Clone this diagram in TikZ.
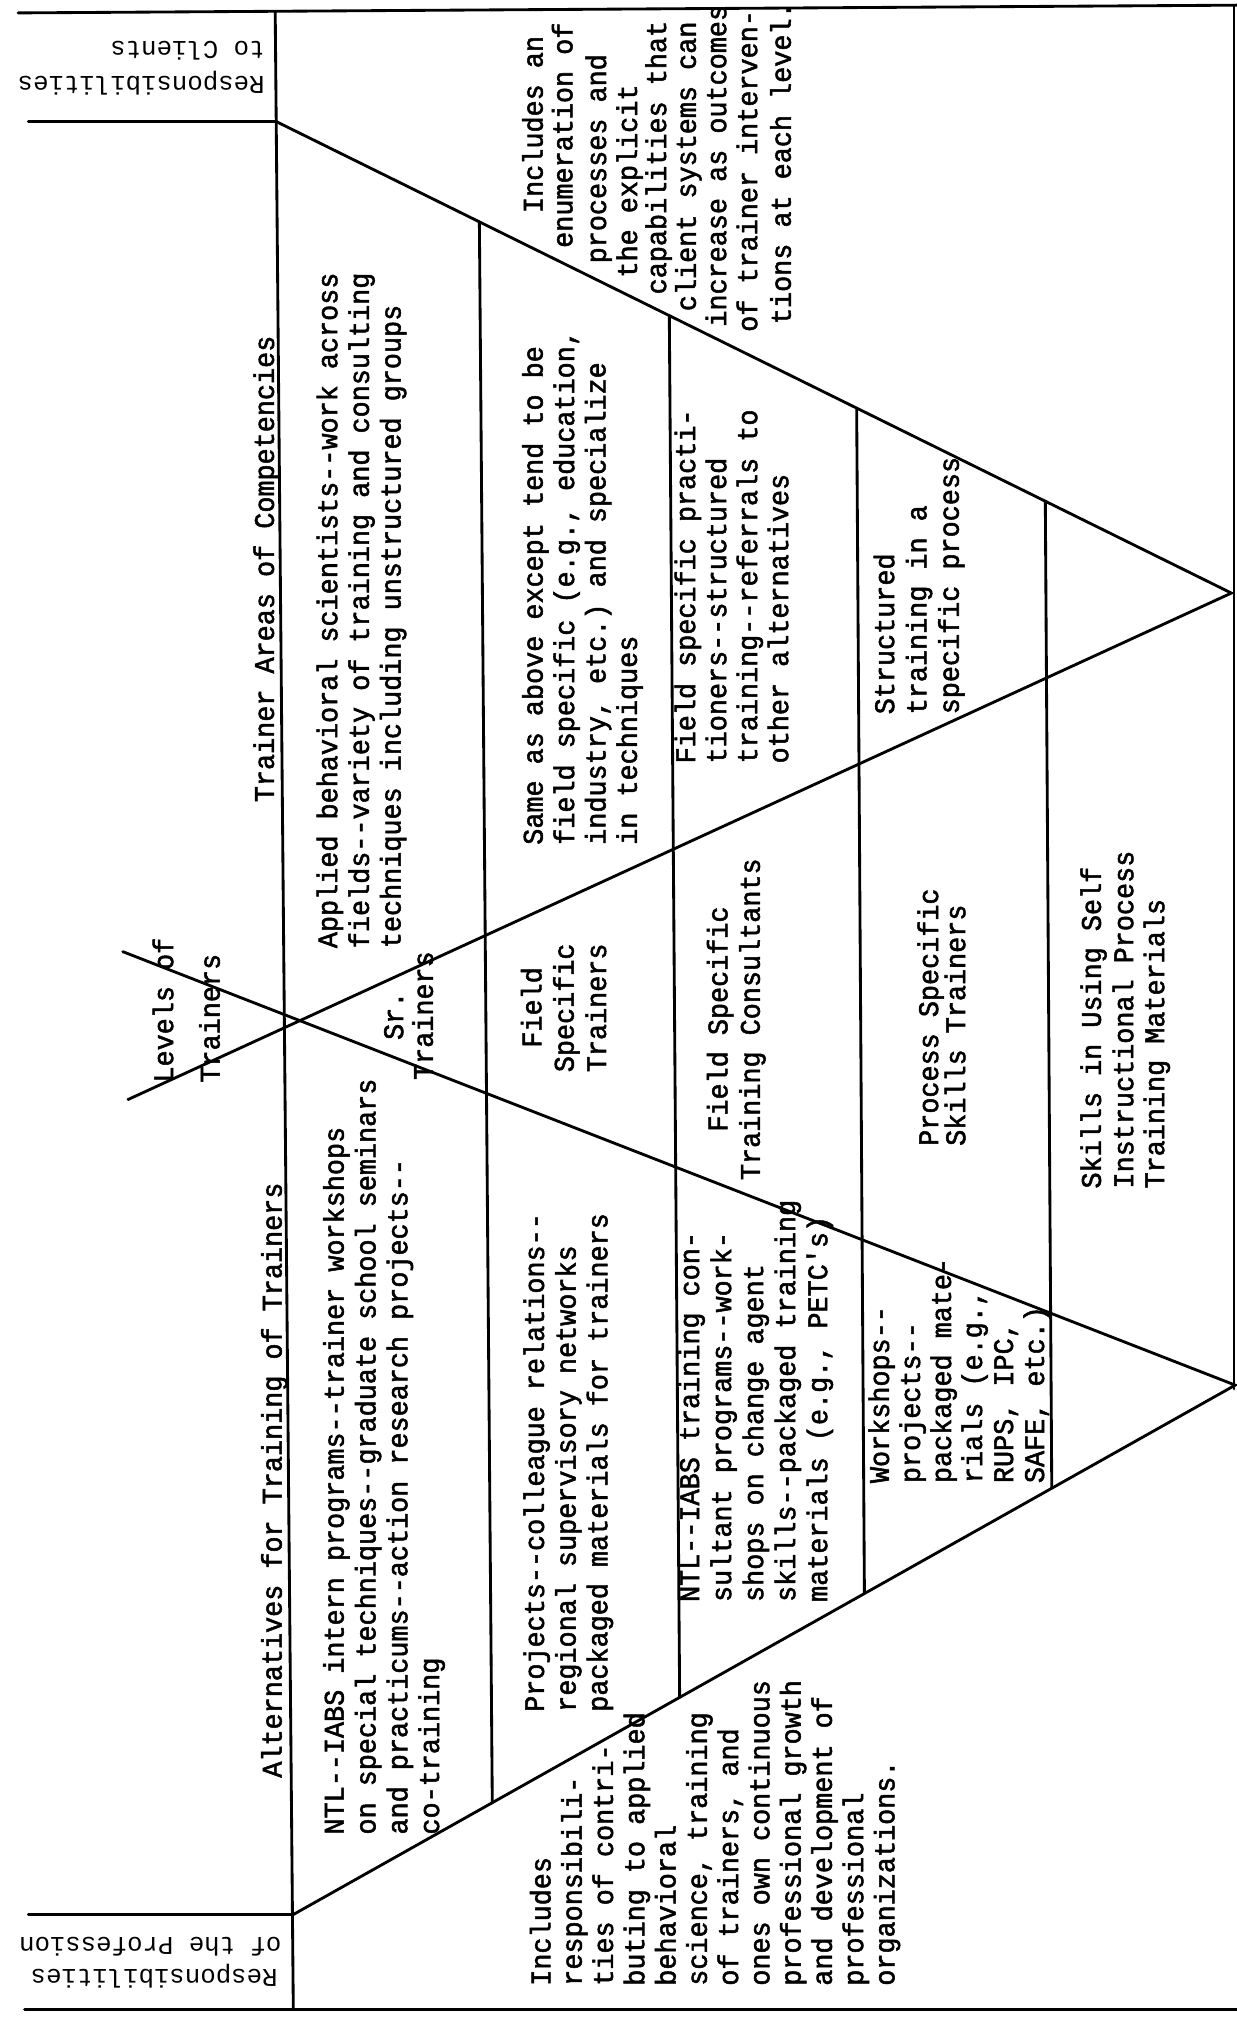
\documentclass[tikz,border=0pt]{standalone}
\usepackage{fontspec}
\setmonofont[FakeBold=1.8,FakeStretch=0.943]{Liberation Mono}
\newfontfamily\hdfont{Liberation Mono}
\begin{document}
\begin{tikzpicture}[x=1pt,y=-1pt,
  ln/.style={line width=2.2pt, line cap=round},
  tl/.style={rotate=90, anchor=base west, inner sep=0pt, font=\ttfamily\fontsize{22}{26}\selectfont},
  hd/.style={rotate=180, anchor=base west, inner sep=0pt, font=\hdfont\fontsize{19.9}{24}\selectfont}]
\fill[white] (0,0) rectangle (957,1568);
\useasboundingbox (0,0) rectangle (957,1568);
% frame coordinates
\coordinate (TL) at (14,10);
\coordinate (TR) at (957,4);
\coordinate (VT) at (213,9.5);
\coordinate (VB) at (227,1555);
\coordinate (H1L) at (22,94);
\coordinate (C1) at (213.6,94);
\coordinate (A1) at (953,459);
\coordinate (BE) at (99,851);
\coordinate (CS) at (95,736.5);
\coordinate (A2) at (956,1072);
\coordinate (C2) at (226.5,1482);
\coordinate (H2L) at (22,1482);
\coordinate (BL) at (19,1555);
\coordinate (BR) at (957,1555);
\coordinate (RT) at (955,4);
\coordinate (RB) at (955,1075);
\coordinate (r1t) at (371,171.7);  \coordinate (r1b) at (381,1395.2);
\coordinate (r2t) at (518,244.3);  \coordinate (r2b) at (526,1313.7);
\coordinate (r3t) at (663,315.8);  \coordinate (r3b) at (669,1233.3);
\coordinate (r4t) at (809,387.9);  \coordinate (r4b) at (814,1151.8);
% lines
\draw[ln] (TL) -- (TR);
\draw[ln] (BL) -- (BR);
\draw[ln] (VT) -- (VB);
\draw[ln] (RT) -- (RB);
\draw[ln] (H1L) -- (C1);
\draw[ln] (H2L) -- (C2);
\draw[ln] (C1) -- (A1) -- (BE);
\draw[ln] (CS) -- (A2) -- (C2);
\draw[ln] (r1t) -- (r1b);
\draw[ln] (r2t) -- (r2b);
\draw[ln] (r3t) -- (r3b);
\draw[ln] (r4t) -- (r4b);
% headers
\node[hd] (h1a) at (205,32.5) {to Clients};
\node[hd] (h1b) at (205,59.5) {Responsibilities};
\node[hd] (h2a) at (218,1499.5) {of the Profession};
\node[hd] (h2b) at (215,1524.5) {Responsibilities};
% titles
\node[tl] (ttac) at (212,621) {Trainer Areas of Competencies};
\node[tl] (tatt) at (218,1376) {Alternatives for Training of Trainers};
% upper blocks
\foreach \tline [count=\k] in {{Applied behavioral scientists--work across},{fields--variety of training and consulting},{techniques including unstructured groups}}
  \node[tl] (ra-\k) at ({261+(\k-1)*24.5},734) {\tline};
\foreach \tline [count=\k] in {{Same as above except tend to be},{field specific (e.g., education,},{industry, etc.) and specialize},{in techniques}}
  \node[tl] (rb-\k) at ({420+(\k-1)*24.3},654) {\tline};
\foreach \tline [count=\k] in {{Field specific practi-},{tioners--structured},{training--referrals to},{other alternatives}}
  \node[tl] (rc-\k) at ({538+(\k-1)*24},591) {\tline};
\foreach \tline [count=\k] in {{Structured},{training in a},{specific process}}
  \node[tl] (rd-\k) at ({692+(\k-1)*25},553) {\tline};
\foreach \xs/\ys/\tline [count=\k] in {420/165/{Includes an},443/192/{enumeration of},469/204/{processes and},493/215/{the explicit},515.5/228/{capabilities that},538.5/241/{client systems can},562/253/{increase as outcomes},586/257/{of trainer interven-},612/251/{tions at each level.}}
  \node[tl] (ia-\k) at (\xs,\ys) {\tline};
% lower blocks
\foreach \tline [count=\k] in {{NTL--IABS intern programs--trainer workshops},{on special techniques--graduate school seminars},{and practicums--action research projects--},{co-training}}
  \node[tl] (la-\k) at ({266+(\k-1)*24.6},1420) {\tline};
\foreach \tline [count=\k] in {{Projects--colleague relations--},{regional supervisory networks},{packaged materials for trainers}}
  \node[tl] (lb-\k) at ({421+(\k-1)*24.5},1325) {\tline};
\foreach \tline [count=\k] in {{NTL--IABS training con-},{sultant programs--work-},{shops on change agent},{skills--packaged training},{materials (e.g., PETC's)}}
  \node[tl] (lc-\k) at ({541+(\k-1)*24.8},1240) {\tline};
\foreach \tline [count=\k] in {{Workshops--},{projects--},{packaged mate-},{rials (e.g.,},{RUPS, IPC,},{SAFE, etc.)}}
  \node[tl] (ld-\k) at ({688+(\k-1)*24},1148) {\tline};
\foreach \tline [count=\k] in {{Includes},{responsibili-},{ties of contri-},{buting to applied},{behavioral},{science, training},{of trainers, and},{ones own continuous},{professional growth},{and development of},{professional},{organizations.}}
  \node[tl] (le-\k) at ({426+(\k-1)*24.2},1537) {\tline};
% levels of trainers
\node[tl] (lv-1) at (134,838) {Levels of};
\node[tl] (lv-2) at (170,838) {Trainers};
\node[tl] (sr-1) at (312,805) {Sr.};
\node[tl] (sr-2) at (335,836) {Trainers};
\node[tl] (fs-1) at (419,811) {Field};
\node[tl] (fs-2) at (444,830) {Specific};
\node[tl] (fs-3) at (469,830) {Trainers};
\node[tl] (fc-1) at (563,876) {Field Specific};
\node[tl] (fc-2) at (588,913.5) {Training Consultants};
\node[tl] (ps-1) at (726,887) {Process Specific};
\node[tl] (ps-2) at (747,887) {Skills Trainers};
\node[tl] (sk-1) at (852,920) {Skills in Using Self};
\node[tl] (sk-2) at (877,920) {Instructional Process};
\node[tl] (sk-3) at (901,920) {Training Materials};
\end{tikzpicture}
\end{document}
